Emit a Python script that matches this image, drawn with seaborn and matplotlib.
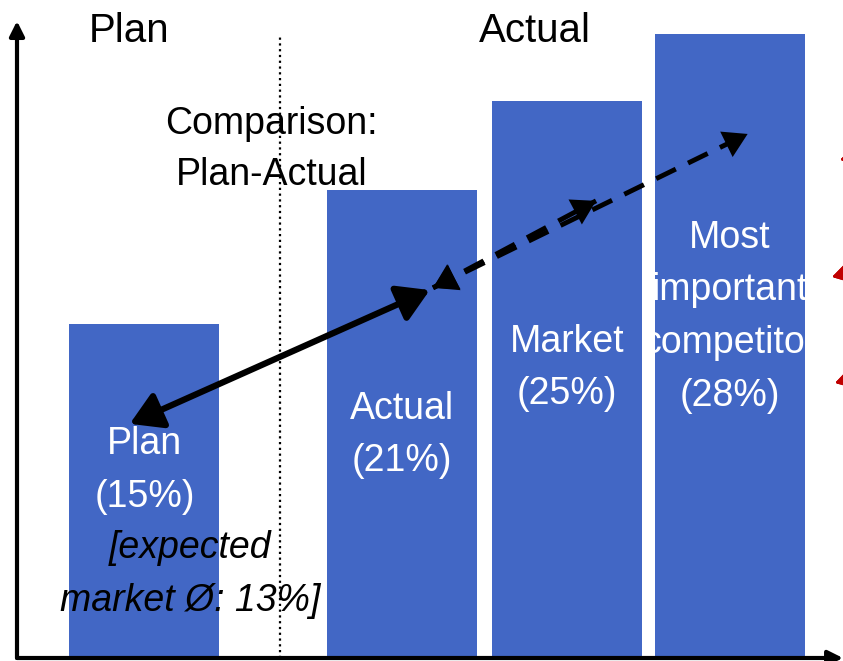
import matplotlib
matplotlib.use("Agg")
import matplotlib.pyplot as plt
import seaborn as sns
import pandas as pd

# --- data -------------------------------------------------------------
categories = ["Plan", "Actual", "Market", "Most important competitor"]
shares = [15, 21, 25, 28]                      # growth in %
positions = [0.0, 1.58, 2.59, 3.59]            # plan bar set apart from the actuals
bar_labels = ["Plan\n(15%)", "Actual\n(21%)", "Market\n(25%)",
              "Most\nimportant\ncompetitor\n(28%)"]
label_heights = [8.4, 10.0, 13.0, 15.3]
expected_note = "[expected\nmarket Ø: 13%]"
section_titles = ["Plan", "Actual"]
comparison_text = "Comparison:\nPlan-Actual"

BLUE = "#4267C5"

sns.set_style("white")
plt.rcParams["font.family"] = ["Liberation Sans", "DejaVu Sans"]
plt.rcParams["text.color"] = "black"

df = pd.DataFrame({"pos": positions, "share": shares, "category": categories})

fig = plt.figure(figsize=(8.43, 6.61), dpi=100)
ax = fig.add_axes([17 / 843, 3 / 661, 826 / 843, 658 / 661])

sns.barplot(data=df, x="pos", y="share", native_scale=True, width=0.92,
            color=BLUE, saturation=1, edgecolor="none", ax=ax, zorder=1)

ax.set_xlim(-0.782, 4.285)
ax.set_ylim(0, 658 / 22.3)
ax.set_xticks([])
ax.set_yticks([])
ax.set_xlabel("")
ax.set_ylabel("")
for s in ax.spines.values():
    s.set_visible(False)

# axis arrows
ax.annotate("", xy=(0, 0.968), xytext=(0, 0), xycoords="axes fraction",
            arrowprops=dict(arrowstyle="-|>", color="black", lw=3,
                            mutation_scale=22, shrinkA=0, shrinkB=0),
            annotation_clip=False)
ax.annotate("", xy=(1.0, 0), xytext=(0, 0), xycoords="axes fraction",
            arrowprops=dict(arrowstyle="-|>", color="black", lw=3,
                            mutation_scale=22, shrinkA=0, shrinkB=0),
            annotation_clip=False)

# divider between plan and actual sections
div_x = 0.831
ax.plot([div_x, div_x], [0, 28.0], color="black", lw=1.6,
        linestyle=(0, (1, 1.6)), zorder=2)

# section headings
ax.text(0.136, 0.953, section_titles[0], transform=ax.transAxes,
        ha="center", va="center", fontsize=29)
ax.text(0.627, 0.953, section_titles[1], transform=ax.transAxes,
        ha="center", va="center", fontsize=29)

ax.text(div_x - 0.05, 22.8, comparison_text, ha="center", va="center",
        fontsize=27, linespacing=1.55, zorder=3)

# labels inside the bars
for x, lab, y in zip(positions, bar_labels, label_heights):
    ax.text(x, y, lab, ha="center", va="center", color="white",
            fontsize=27, linespacing=1.6, zorder=3)

ax.text(positions[0] + 0.28, 3.75, expected_note, ha="center", va="center",
        fontsize=27, style="italic", color="black", linespacing=1.6, zorder=3)

# comparison arrows, pointing a fixed distance below each bar top
drop = 4.5
x_off = [-0.09, 0.17, 0.18, 0.11]
pts = [(positions[i] + x_off[i], shares[i] - drop) for i in range(4)]

ax.annotate("", xy=pts[1], xytext=pts[0],
            arrowprops=dict(arrowstyle="<|-|>,head_length=0.5,head_width=0.3",
                            color="black", lw=4.5,
                            mutation_scale=38, shrinkA=0, shrinkB=0),
            zorder=4)

# dashed shafts with solid filled heads
start = (pts[1][0] + 0.02, pts[1][1] + 0.1)
for end in (pts[2], pts[3]):
    ax.plot([start[0], end[0]], [start[1], end[1]], color="black", lw=3.5,
            dashes=(4.5, 2.8), solid_capstyle="butt", zorder=4)
    ax.annotate("", xy=end, xytext=start,
                arrowprops=dict(arrowstyle="<|-|>,head_length=0.5,head_width=0.3",
                                facecolor="black", edgecolor="none", lw=0,
                                mutation_scale=34, shrinkA=0, shrinkB=0),
                zorder=4)

# red pointers entering from the right edge
for tip, tail in [((840, 501), (950, 530)), ((832, 384), (950, 415)),
                  ((835, 278), (950, 310))]:
    fig.add_artist(plt.annotate("", xy=tip, xytext=tail,
                                xycoords="figure pixels",
                                arrowprops=dict(arrowstyle="-|>,head_length=0.5,head_width=0.3",
                                                color="#C00000",
                                                lw=2, mutation_scale=30,
                                                shrinkA=0, shrinkB=0),
                                annotation_clip=False))

fig.savefig("out.png", dpi=100)
